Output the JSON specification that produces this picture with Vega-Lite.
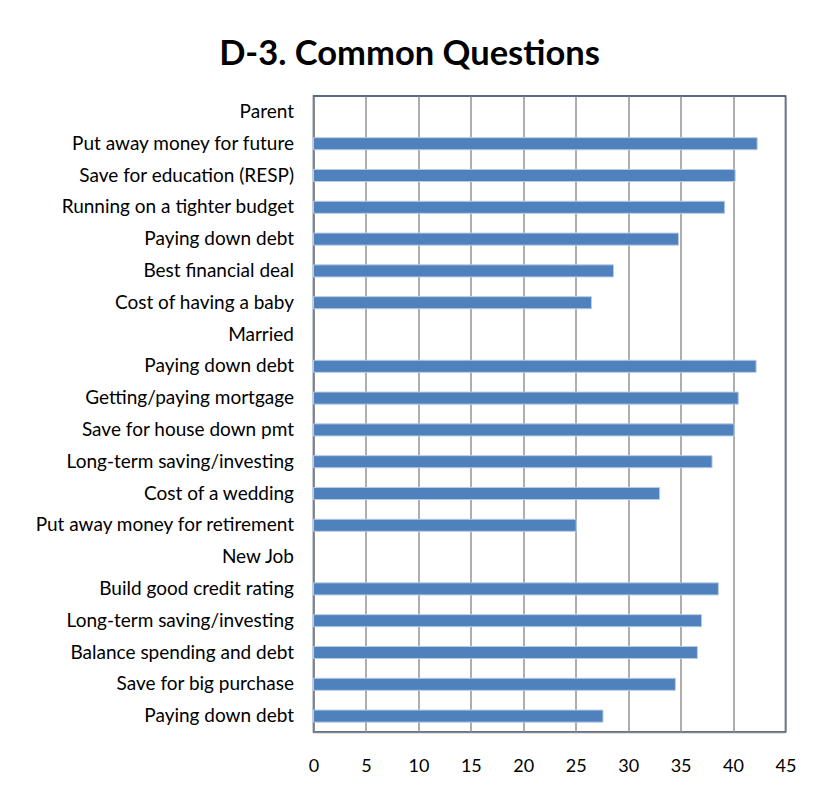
{
  "$schema": "https://vega.github.io/schema/vega-lite/v6.json",
  "width": 472,
  "height": 636,
  "autosize": {"type": "none"},
  "padding": {"left": 313.5, "top": 96, "right": 27.5, "bottom": 61},
  "background": "white",
  "title": {
    "text": "D-3. Common Questions",
    "font": "Lato",
    "fontWeight": "bold",
    "fontSize": 34.5,
    "color": "#000000",
    "anchor": "middle",
    "dx": -140,
    "offset": -3,
    "baseline": "alphabetic"
  },
  "data": {
    "values": [
      {"row": "01 Parent", "value": null},
      {"row": "02 Put away  money for future", "value": 42.3},
      {"row": "03 Save for education (RESP)", "value": 40.2},
      {"row": "04 Running on a tighter budget", "value": 39.2},
      {"row": "05 Paying down debt", "value": 34.8},
      {"row": "06 Best financial deal", "value": 28.6},
      {"row": "07 Cost of having a baby", "value": 26.5},
      {"row": "08 Married", "value": null},
      {"row": "09 Paying down debt", "value": 42.2},
      {"row": "10 Getting/paying mortgage", "value": 40.5},
      {"row": "11 Save for house down pmt", "value": 40.1},
      {"row": "12 Long-term saving/investing", "value": 38.0},
      {"row": "13 Cost of a wedding", "value": 33.0},
      {"row": "14 Put away  money for retirement", "value": 25.05},
      {"row": "15 New Job", "value": null},
      {"row": "16 Build good credit rating", "value": 38.6},
      {"row": "17 Long-term saving/investing", "value": 37.0},
      {"row": "18 Balance spending and debt", "value": 36.6},
      {"row": "19 Save for big purchase", "value": 34.5},
      {"row": "20 Paying down debt", "value": 27.6}
    ]
  },
  "mark": {"type": "bar", "color": "#4F81BD", "stroke": "#B8CCE4", "strokeWidth": 1},
  "encoding": {
    "y": {
      "field": "row",
      "type": "nominal",
      "sort": null,
      "scale": {
        "domain": ["01 Parent", "02 Put away  money for future", "03 Save for education (RESP)", "04 Running on a tighter budget", "05 Paying down debt", "06 Best financial deal", "07 Cost of having a baby", "08 Married", "09 Paying down debt", "10 Getting/paying mortgage", "11 Save for house down pmt", "12 Long-term saving/investing", "13 Cost of a wedding", "14 Put away  money for retirement", "15 New Job", "16 Build good credit rating", "17 Long-term saving/investing", "18 Balance spending and debt", "19 Save for big purchase", "20 Paying down debt"],
        "paddingInner": 0.62,
        "paddingOuter": 0.31
      },
      "axis": {
        "title": null,
        "labelExpr": "substring(datum.value, 3)",
        "labelFont": "Lato",
        "labelFontSize": 19,
        "labelColor": "#000000",
        "labelPadding": 20,
        "labelLimit": 400,
        "ticks": false,
        "domainColor": "#868686",
        "domainWidth": 1.5,
        "grid": false
      }
    },
    "x": {
      "field": "value",
      "type": "quantitative",
      "scale": {"domain": [0, 45], "nice": false},
      "axis": {
        "title": null,
        "values": [0, 5, 10, 15, 20, 25, 30, 35, 40, 45],
        "labelFont": "Lato",
        "labelFontSize": 18,
        "labelColor": "#000000",
        "labelPadding": 25,
        "ticks": false,
        "domainColor": "#868686",
        "domainWidth": 1.5,
        "grid": true,
        "gridColor": "#8C8C8C",
        "gridWidth": 1.4,
        "labelFlush": false
      }
    }
  },
  "config": {
    "view": {"stroke": "#1F3A6E", "strokeWidth": 1.5}
  }
}
